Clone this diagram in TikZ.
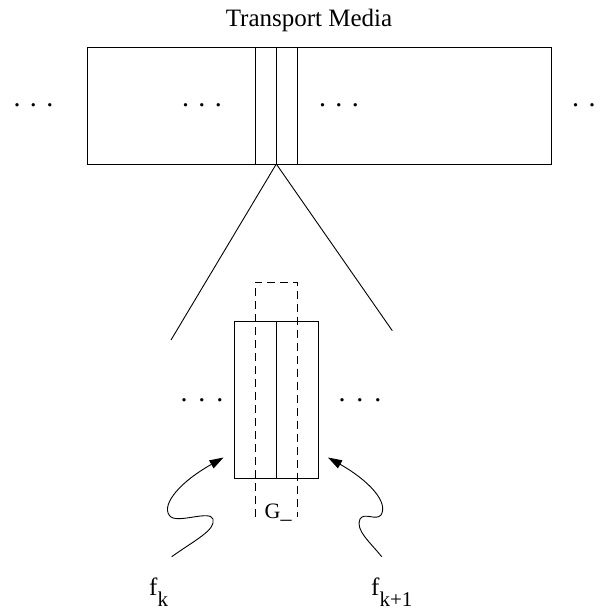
\documentclass[tikz,border=0pt]{standalone}
\usepackage{fontspec}
\setmainfont{Liberation Serif}
\usetikzlibrary{arrows.meta}
\tikzset{
  box/.style={draw, line width=0.9pt, inner sep=0pt, anchor=north west},
  dashbox/.style={line width=0.9pt, dash pattern=on 8pt off 5pt},
  thinline/.style={line width=0.9pt},
  wave/.style={line width=0.9pt, -{Triangle[length=14pt,width=9pt]}},
  dotsnode/.style={inner sep=0pt, anchor=base, font=\fontsize{28}{28}\selectfont},
  lbl/.style={inner sep=0pt, anchor=base west},
}
\newcommand{\mydots}{.\kern9.5pt.\kern9.5pt.}
\newcommand{\mydotsb}{.\kern11pt.\kern11pt.}
\begin{document}
\begin{tikzpicture}[x=1pt,y=-1pt]
\useasboundingbox (0,0) rectangle (604,610);
% title
\node[inner sep=0pt, anchor=base, font=\fontsize{25}{25}\selectfont] (title) at (309,27) {Transport Media};
% top media rectangle
\node[box, minimum width=464pt, minimum height=117pt] (media) at (86.7,47) {};
\node[box, minimum width=42pt, minimum height=117pt] (slot) at (255.3,47) {};
\coordinate (slottop) at (276.3,47);
\coordinate (apex) at (276.3,164);
\draw[thinline] (slottop) -- (apex);
% dots top
\node[dotsnode] (d1) at (33.5,106) {\mydots};
\node[dotsnode] (d2) at (202,106) {\mydots};
\node[dotsnode] (d3) at (339,106) {\mydots};
\node[dotsnode] (d4) at (592,106) {\mydots};
% zoom lines
\coordinate (lend) at (171,340);
\coordinate (rend) at (392.3,330.7);
\draw[thinline] (apex) -- (lend);
\draw[thinline] (apex) -- (rend);
% lower rectangle
\node[box, minimum width=84.3pt, minimum height=157.3pt] (cell) at (234,321) {};
\coordinate (celltop) at (276,321);
\coordinate (cellbot) at (276,478.3);
\draw[thinline] (celltop) -- (cellbot);
% dashed guard region
\coordinate (g1) at (255,517);
\coordinate (g2) at (255,282);
\coordinate (g3) at (297.3,282);
\coordinate (g4) at (297.3,517);
\draw[dashbox] (g1) -- (g2) -- (g3) -- (g4);
\node[lbl, font=\fontsize{22}{22}\selectfont] (G) at (264.5,518) {G\_};
% dots lower
\node[dotsnode] (d5) at (202,401) {\mydotsb};
\node[dotsnode] (d6) at (360,401) {\mydotsb};
% wavy arrows
\coordinate (ls) at (171.7,556.7);
\coordinate (lt) at (223.5,457.5);
\coordinate (rs) at (381.7,556.7);
\coordinate (rt) at (328,457.5);
\draw[wave] (ls) .. controls (195,540) and (216,530) .. (213,519)
  .. controls (210,510) and (180,523) .. (171,517)
  .. controls (160,508) and (175,485) .. (lt);
\draw[wave] (rs) .. controls (370,542) and (355,530) .. (360,519)
  .. controls (364,512) and (376,521) .. (381,515)
  .. controls (389,502) and (368,480) .. (rt);
% labels
\node[lbl, font=\fontsize{25}{25}\selectfont] (fk) at (149,595) {f\raisebox{-11pt}{\fontsize{21}{21}\selectfont k}};
\node[lbl, font=\fontsize{25}{25}\selectfont] (fk1) at (371,595) {f\raisebox{-11pt}{\fontsize{21}{21}\selectfont k+1}};
\end{tikzpicture}
\end{document}
